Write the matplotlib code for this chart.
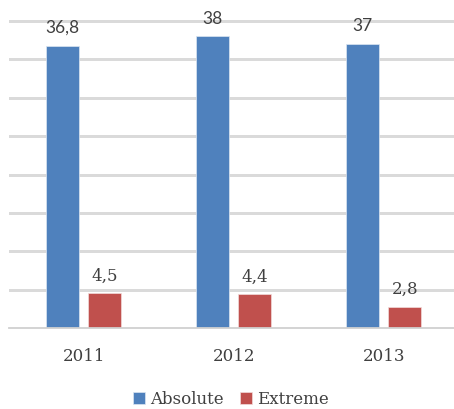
import matplotlib.pyplot as plt
import numpy as np

years = ["2011", "2012", "2013"]
absolute = [36.8, 38, 37]
extreme = [4.5, 4.4, 2.8]
absolute_labels = ["36,8", "38", "37"]
extreme_labels = ["4,5", "4,4", "2,8"]
grid_values = [5, 10, 15, 20, 25, 30, 35, 40]

blue = "#4F81BD"
red = "#C0504D"
txt = "#404040"

fig = plt.figure(figsize=(4.54, 4.10), dpi=100)
ax = fig.add_axes([8.5 / 454, 1 - 329 / 410, 450.5 / 454, 312 / 410])

x = np.arange(len(years))
w = 0.22
off = 0.14
b1 = ax.bar(x - off, absolute, w, color=blue, edgecolor="#dce6f2", linewidth=0.5, zorder=3)
b2 = ax.bar(x + off, extreme, w, color=red, edgecolor="#f2dcdb", linewidth=0.5, zorder=3)

for rect, lab in zip(b1, absolute_labels):
    ax.annotate(lab, (rect.get_x() + rect.get_width() / 2, rect.get_height()),
                xytext=(0, 10), textcoords="offset points", ha="center", va="baseline",
                fontsize=12.5, color=txt, family="Lato", zorder=5)
for rect, lab in zip(b2, extreme_labels):
    ax.annotate(lab, (rect.get_x() + rect.get_width() / 2, rect.get_height()),
                xytext=(0, 10), textcoords="offset points", ha="center", va="baseline",
                fontsize=12, color=txt, family="DejaVu Serif", zorder=5)

# gridlines drawn by hand, the top one went missing with ax.grid
for g in grid_values:
    ax.axhline(g, color="#dadada", linewidth=1.0, antialiased=False, zorder=1)

ax.set_xlim(-0.5, 2.5)
ax.set_ylim(0, 40.66)
ax.set_yticks([])
ax.set_xticks(x)
ax.set_xticklabels(years, family="DejaVu Serif", fontsize=12, color=txt)
ax.tick_params(axis="x", length=0, pad=14)
for s in ["top", "right", "left"]:
    ax.spines[s].set_visible(False)
ax.spines["bottom"].set_color("#d0d0d0")
ax.spines["bottom"].set_linewidth(1.3)
ax.spines["bottom"].set_zorder(4)

fig.legend([b1, b2], ["Absolute", "Extreme"], loc="center", bbox_to_anchor=(231 / 454, 1 - 400 / 410),
           ncol=2, frameon=False, prop={"family": "DejaVu Serif", "size": 12},
           handlelength=0.7, handleheight=0.7, handletextpad=0.3, columnspacing=1.0,
           labelcolor=txt)

fig.savefig("out.png", dpi=100)
